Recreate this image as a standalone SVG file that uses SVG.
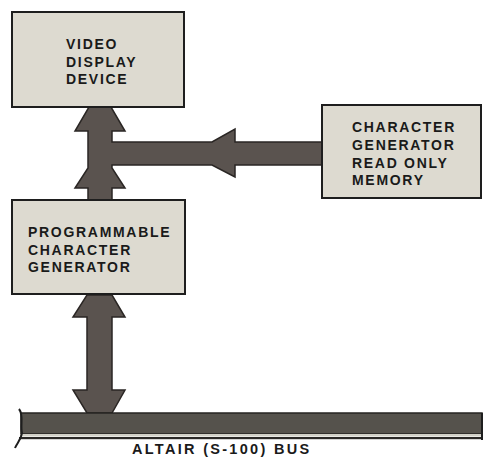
<svg xmlns="http://www.w3.org/2000/svg" width="484" height="458" viewBox="0 0 484 458">
  <style>
    .box { fill: #dddad0; stroke: #1e1e1e; stroke-width: 2; }
    .lbl { font-family: "Liberation Sans", Arial, sans-serif; font-weight: bold; font-size: 14px; letter-spacing: 1.7px; fill: #1a1a1a; }
    .bus-lbl { font-family: "Liberation Sans", Arial, sans-serif; font-weight: bold; font-size: 14.5px; letter-spacing: 2.3px; fill: #1a1a1a; }
    .arrow { fill: #5a534f; stroke: #2a2624; stroke-width: 1.5; stroke-linejoin: miter; }
  </style>
  <rect width="484" height="458" fill="#ffffff"/>

  <g id="connectors">
    <path class="arrow" d="M 89,107 L 111,107 L 125,131 L 112,131 L 112,142 L 212,142 L 235,129 L 235,142 L 322,142 L 322,165 L 235,165 L 235,177 L 212,165 L 112,165 L 112,168 L 125,188 L 112,188 L 112,200 L 88,200 L 88,188 L 75,188 L 88,168 L 88,131 L 75,131 Z"/>
    <path class="arrow" d="M 87,295 L 112,295 L 125,317 L 112,317 L 112,390 L 125,390 L 112,413 L 87,413 L 73,390 L 87,390 L 87,317 L 73,317 Z"/>
  </g>

  <g id="bus">
    <path d="M 21,413 L 482,413 L 482,434 L 21,434 Z" fill="#55524c" stroke="#262422" stroke-width="1.5"/>
    <rect x="20" y="434" width="462" height="2.5" fill="#d2d1c8"/>
    <rect x="19" y="437" width="463" height="2.2" fill="#2a2826"/>
    <path d="M 19,409 C 24,415 20,425 22,433 C 21,440 17,443 15,448" fill="none" stroke="#1e1e1e" stroke-width="2"/>
    <line x1="482" y1="413" x2="482" y2="440" stroke="#1e1e1e" stroke-width="2"/>
    <text class="bus-lbl" x="132" y="454">ALTAIR (S-100) BUS</text>
  </g>

  <g id="video">
    <rect class="box" x="12" y="12" width="172" height="95"/>
    <text class="lbl" x="66" y="49">VIDEO</text>
    <text class="lbl" x="66" y="67">DISPLAY</text>
    <text class="lbl" x="66" y="84">DEVICE</text>
  </g>

  <g id="pcg">
    <rect class="box" x="12" y="200" width="173" height="94"/>
    <text class="lbl" x="28" y="237">PROGRAMMABLE</text>
    <text class="lbl" x="28" y="255">CHARACTER</text>
    <text class="lbl" x="28" y="272">GENERATOR</text>
  </g>

  <g id="rom">
    <rect class="box" x="322" y="105" width="159" height="93"/>
    <text class="lbl" x="352" y="132">CHARACTER</text>
    <text class="lbl" x="352" y="150">GENERATOR</text>
    <text class="lbl" x="352" y="167.5">READ ONLY</text>
    <text class="lbl" x="352" y="185">MEMORY</text>
  </g>
</svg>
